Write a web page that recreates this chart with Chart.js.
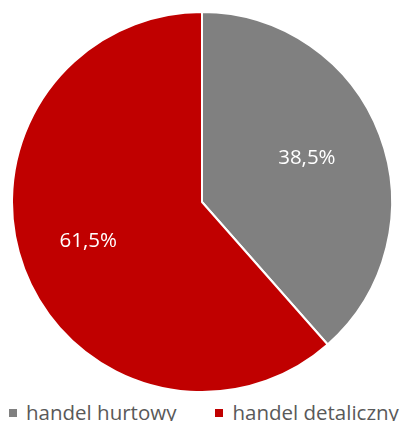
<!DOCTYPE html>
<html>
<head>
<meta charset="utf-8">
<script src="https://cdn.jsdelivr.net/npm/chart.js@4/dist/chart.umd.min.js"></script>
<style>
  html, body { margin: 0; padding: 0; background: #fff; }
  #wrap { position: relative; width: 402px; height: 421px; overflow: hidden; }
  #chartBox { position: absolute; left: 0; top: 0; width: 402px; height: 393px; }
  #legend {
    position: absolute; left: 9px; top: 400px;
    display: flex; align-items: center;
    font-family: "Open Sans", sans-serif; font-size: 20.5px; line-height: 24px;
    color: #595959; white-space: nowrap;
  }
  .item { display: flex; align-items: center; }
  .item + .item { margin-left: 39px; }
  .box { width: 8px; height: 8px; margin-right: 9px; margin-top: 2px; }
</style>
</head>
<body>
<div id="wrap">
  <div id="chartBox"><canvas id="pieChart"></canvas></div>
  <div id="legend"></div>
</div>
<script>
/* ================================
   Data
================================ */
const categories = ["handel hurtowy", "handel detaliczny"];
const shares = [38.5, 61.5];
const sliceLabels = ["38,5%", "61,5%"];
const sliceColors = ["#808080", "#C00000"];

/* ================================
   Slice labels plugin
================================ */
const labelRadius = [0.59, 0.64];

const sliceLabelPlugin = {
  id: "sliceLabels",
  afterDatasetsDraw(chart) {
    const ctx = chart.ctx;
    const meta = chart.getDatasetMeta(0);
    ctx.save();
    ctx.fillStyle = "#ffffff";
    ctx.font = "20.5px 'Open Sans'";
    ctx.textAlign = "center";
    ctx.textBaseline = "middle";
    meta.data.forEach((arc, i) => {
      const p = arc.getProps(["x", "y", "startAngle", "endAngle", "outerRadius"], true);
      const mid = (p.startAngle + p.endAngle) / 2;
      const r = p.outerRadius * labelRadius[i];
      ctx.fillText(sliceLabels[i], p.x + Math.cos(mid) * r, p.y + Math.sin(mid) * r - 4);
    });
    ctx.restore();
  }
};

/* ================================
   Chart
================================ */
new Chart(document.getElementById("pieChart"), {
  type: "pie",
  data: {
    labels: categories,
    datasets: [{
      data: shares,
      backgroundColor: sliceColors,
      borderColor: "#ffffff",
      borderWidth: 2
    }]
  },
  options: {
    responsive: true,
    maintainAspectRatio: false,
    animation: false,
    layout: { padding: { top: 11, left: 2, right: 0, bottom: 0 } },
    plugins: {
      tooltip: { enabled: false },
      legend: { display: false }
    }
  },
  plugins: [sliceLabelPlugin]
});

/* ================================
   Legend
================================ */
const legendEl = document.getElementById("legend");
categories.forEach((name, i) => {
  const item = document.createElement("div");
  item.className = "item";
  const box = document.createElement("span");
  box.className = "box";
  box.style.background = sliceColors[i];
  const text = document.createElement("span");
  text.textContent = name;
  item.appendChild(box);
  item.appendChild(text);
  legendEl.appendChild(item);
});
</script>
</body>
</html>
